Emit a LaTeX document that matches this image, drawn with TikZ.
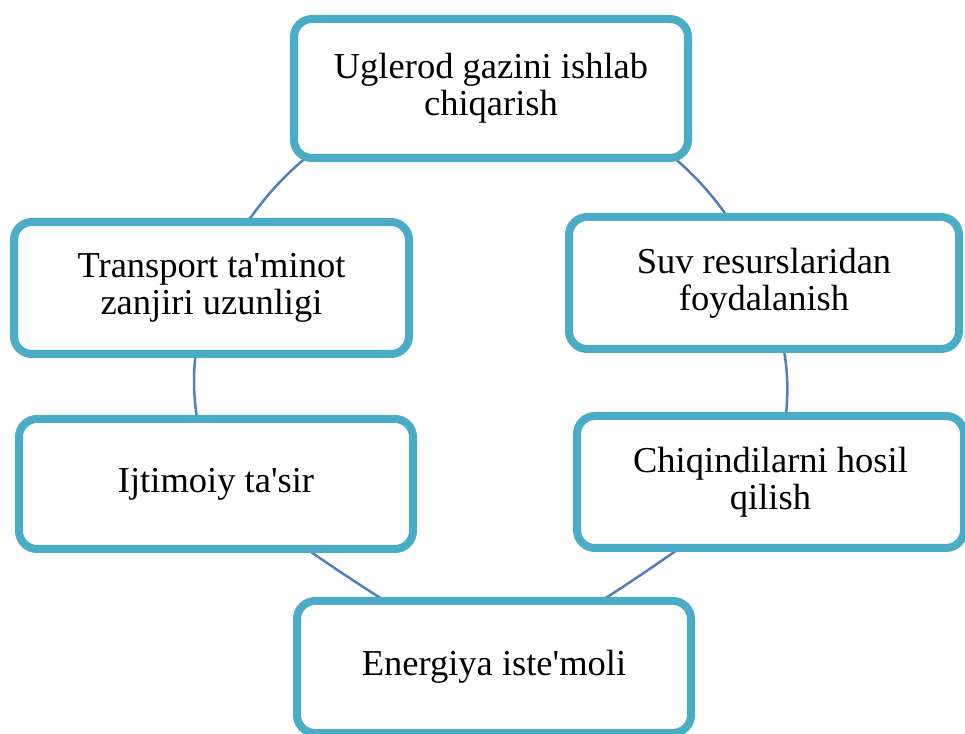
\documentclass[tikz,border=0pt]{standalone}
\usepackage{fontspec}
\setmainfont{Liberation Serif}
\usetikzlibrary{backgrounds}
\definecolor{boxline}{RGB}{75,172,198}
\definecolor{arcline}{RGB}{79,129,189}
\tikzset{
  cyclebox/.style={draw=boxline, line width=8pt, fill=white, rounded corners=18pt,
    inner sep=0pt, align=center, text=black,
    font=\fontsize{36.5}{37}\selectfont},
  cyclearc/.style={draw=arcline, line width=2.5pt}
}
\begin{document}
\begin{tikzpicture}[x=1pt,y=1pt]
\useasboundingbox (0,0) rectangle (965,733);
\node[cyclebox, minimum width=394pt, minimum height=139pt] (top) at (491,644.5) {Uglerod gazini ishlab\\chiqarish};
\node[cyclebox, minimum width=395pt, minimum height=132pt] (transport) at (211.5,445) {Transport ta\textquotesingle minot\\zanjiri uzunligi};
\node[cyclebox, minimum width=390pt, minimum height=132pt] (suv) at (764,450) {Suv resurslaridan\\foydalanish};
\node[cyclebox, minimum width=394pt, minimum height=130pt] (ijtimoiy) at (216,249) {Ijtimoiy ta\textquotesingle sir};
\node[cyclebox, minimum width=387pt, minimum height=132pt] (chiqindi) at (770.5,251) {Chiqindilarni hosil\\qilish};
\node[cyclebox, minimum width=394pt, minimum height=132pt] (energiya) at (494,66) {Energiya iste\textquotesingle moli};
\begin{scope}[on background layer]
  \fill[white] (0,0) rectangle (965,733);
  \draw[cyclearc] (top.center) to[bend right=31] (transport.center);
  \draw[cyclearc] (top.center) to[bend left=31] (suv.center);
  \draw[cyclearc] (transport.center) to[bend right=20] (ijtimoiy.center);
  \draw[cyclearc] (suv.center) to[bend left=20] (chiqindi.center);
  \draw[cyclearc] (ijtimoiy.center) to[bend right=3] (energiya.center);
  \draw[cyclearc] (chiqindi.center) to[bend left=3] (energiya.center);
\end{scope}
\end{tikzpicture}
\end{document}
